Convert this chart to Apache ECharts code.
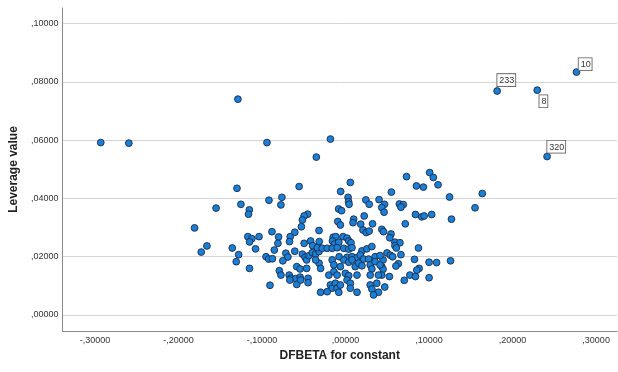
<!DOCTYPE html>
<html><head><meta charset="utf-8">
<script src="https://cdn.jsdelivr.net/npm/echarts@6/dist/echarts.min.js"></script>
<style>html,body{margin:0;padding:0;background:#fff}#c{width:618px;height:372px}</style>
</head><body><div id="c"></div>
<script>
// DFBETA for constant (x) and Leverage value (y) for each case
const dfbeta = [
-0.2931,-0.2595,-0.1289,-0.0941,-0.0181,-0.0350,-0.1300,-0.0556,0.0057,-0.0059,
0.0030,0.0036,0.0042,-0.0917,-0.0762,-0.0774,-0.1253,-0.1550,-0.1152,-0.1162,
-0.0083,-0.0048,
0.0730,0.1007,0.1051,0.0849,0.0932,0.1107,0.0549,0.1245,0.1637,0.1550,
0.0466,0.0434,0.0644,0.0691,0.0663,0.0837,0.0912,0.0941,0.1031,0.1268,
0.0715,0.0434,0.0454,0.0544,0.0529,0.0591,0.0651,0.0591,0.0608,0.0873,
0.0496,0.0537,0.0564,0.0663,0.0449,0.0825,0.1000,0.1090,0.1257,0.0632,
0.0603,0.0434,0.0449,0.0881,0.0853,0.0770,0.0837,0.1000,0.0525,0.0703,
0.0434,0.0469,
0.0243,0.0283,0.0401,-0.0454,-0.0496,-0.0517,-0.0093,-0.0062,0.0097,0.0089,
0.0223,0.0181,0.0323,0.0208,0.0247,0.0283,
-0.0529,-0.0318,-0.1808,-0.1660,-0.1728,-0.1356,-0.1280,-0.1309,-0.1150,-0.1170,
-0.1122,-0.1150,-0.1036,-0.1078,-0.0881,-0.0802,-0.0810,-0.0663,-0.0671,-0.0608,
-0.0496,-0.0853,-0.0715,-0.0691,-0.0608,-0.0952,-0.0920,-0.0876,-0.0751,-0.0517,
-0.0485,-0.0466,-0.0437,-0.0398,-0.0359,-0.0318,-0.0584,-0.0544,-0.0466,-0.0793,
-0.0774,-0.0675,-0.0656,-0.0596,-0.0544,-0.0667,-0.0449,-0.0449,-0.0584,-0.0905,
-0.0299,-0.0318,-0.0299,-0.0359,-0.0418,-0.0537,
0.0461,-0.0315,-0.0148,-0.0116,-0.0030,0.0018,-0.0157,-0.0133,-0.0081,0.0038,
0.0065,-0.0394,-0.0338,-0.0279,-0.0220,-0.0160,-0.0101,-0.0021,0.0038,0.0077,
0.0196,0.0255,0.0315,-0.0077,0.0018,0.0077,0.0137,0.0176,0.0216,0.0276,
0.0354,0.0413,-0.0160,-0.0140,-0.0062,-0.0021,0.0038,0.0077,0.0116,0.0157,
0.0196,0.0295,0.0315,0.0354,0.0413,-0.0200,-0.0140,-0.0101,-0.0002,0.0038,
0.0137,0.0295,0.0394,-0.0181,-0.0160,-0.0121,-0.0101,-0.0062,-0.0081,0.0018,
0.0057,0.0057,0.0295,0.0315,0.0374,0.0394,-0.0220,0.0137,0.0335
];
const leverage = [
0.0592,0.0590,0.0741,0.0592,0.0604,0.0542,0.0435,0.0441,0.0455,0.0424,
0.0404,0.0389,0.0380,0.0394,0.0404,0.0378,0.0380,0.0367,0.0361,0.0346,
0.0364,0.0358,
0.0475,0.0489,0.0472,0.0443,0.0439,0.0447,0.0422,0.0405,0.0417,0.0368,
0.0380,0.0369,0.0381,0.0379,0.0370,0.0345,0.0337,0.0340,0.0345,0.0329,
0.0313,0.0294,0.0286,0.0278,0.0265,0.0250,0.0248,0.0238,0.0230,0.0230,
0.0213,0.0205,0.0200,0.0207,0.0189,0.0191,0.0181,0.0180,0.0186,0.0176,
0.0168,0.0166,0.0157,0.0160,0.0154,0.0137,0.0132,0.0128,0.0132,0.0119,
0.0137,0.0096,
0.0395,0.0380,0.0396,0.0346,0.0340,0.0326,0.0321,0.0309,0.0329,0.0317,
0.0340,0.0312,0.0313,0.0292,0.0283,0.0288,
0.0303,0.0290,0.0299,0.0237,0.0216,0.0230,0.0207,0.0183,0.0160,0.0269,
0.0262,0.0251,0.0269,0.0227,0.0286,0.0268,0.0246,0.0269,0.0252,0.0284,
0.0246,0.0223,0.0212,0.0199,0.0219,0.0200,0.0192,0.0193,0.0186,0.0209,
0.0198,0.0189,0.0204,0.0214,0.0209,0.0218,0.0166,0.0158,0.0160,0.0152,
0.0137,0.0137,0.0126,0.0125,0.0130,0.0120,0.0126,0.0111,0.0105,0.0102,
0.0078,0.0178,0.0160,0.0189,0.0254,0.0120,
0.0353,0.0252,0.0267,0.0269,0.0269,0.0264,0.0254,0.0243,0.0250,0.0254,
0.0248,0.0238,0.0231,0.0229,0.0229,0.0229,0.0231,0.0229,0.0226,0.0231,
0.0220,0.0227,0.0235,0.0200,0.0198,0.0200,0.0197,0.0206,0.0192,0.0192,
0.0200,0.0204,0.0189,0.0172,0.0166,0.0189,0.0181,0.0189,0.0166,0.0178,
0.0169,0.0172,0.0158,0.0183,0.0172,0.0137,0.0149,0.0137,0.0143,0.0135,
0.0137,0.0137,0.0137,0.0103,0.0092,0.0109,0.0092,0.0103,0.0078,0.0120,
0.0109,0.0092,0.0103,0.0089,0.0109,0.0078,0.0080,0.0078,0.0069
];
// labelled cases
const caseIds = ['233','8','10','320'];
const caseDfbeta = [0.1815,0.2295,0.2765,0.2413];
const caseLeverage = [0.0769,0.0772,0.0834,0.0544];
const xTicks = [-0.3,-0.2,-0.1,0,0.1,0.2,0.3];
const yTicks = [0,0.02,0.04,0.06,0.08,0.10];

function fmt(v){
  const s = Math.abs(v).toFixed(5).split('.')[1];
  return (v < -1e-9 ? '-,' : ',') + s;
}
const labelOffsets = {'233':[4,-13],'8':[6,9],'10':[6,-10],'320':[4,-12]};

const main = dfbeta.map((x,i)=>[x, leverage[i]]);
const labelled = caseIds.map((id,i)=>({
  value:[caseDfbeta[i], caseLeverage[i]],
  label:{show:true, formatter:id, position:labelOffsets[id]}
}));

const chart = echarts.init(document.getElementById('c'), null, {renderer:'canvas'});
const pointStyle = {color:'#1a7fd6', borderColor:'#1d2a45', borderWidth:0.9, opacity:1};
chart.setOption({
  animation:false,
  backgroundColor:'#fff',
  grid:{left:58, right:1, top:8, bottom:41, containLabel:false},
  xAxis:{
    type:'value', min:-0.339, max:0.325,
    name:'DFBETA for constant', nameLocation:'middle', nameGap:18,
    nameTextStyle:{fontFamily:'Liberation Sans', fontSize:12, fontWeight:'bold', color:'#222'},
    axisLine:{show:true, onZero:false, lineStyle:{color:'#8a8a8a', width:1}},
    axisTick:{show:false, customValues:xTicks},
    axisLabel:{customValues:xTicks, formatter:fmt, fontFamily:'Liberation Sans', fontSize:9, color:'#333', margin:5},
    splitLine:{show:false}
  },
  yAxis:{
    type:'value', min:-0.0055, max:0.1054,
    name:'Leverage value', nameLocation:'middle', nameGap:33,
    nameTextStyle:{fontFamily:'Liberation Sans', fontSize:12, fontWeight:'bold', color:'#222'},
    axisLine:{show:true, onZero:false, lineStyle:{color:'#8a8a8a', width:1}},
    axisTick:{show:false, customValues:yTicks},
    axisLabel:{customValues:yTicks, formatter:fmt, fontFamily:'Liberation Sans', fontSize:9, color:'#333', margin:4},
    splitLine:{show:true, lineStyle:{color:'#d4d4d4', width:1}}
  },
  series:[
    {type:'scatter', data:main, symbol:'circle', symbolSize:6.8, itemStyle:pointStyle, silent:true},
    {type:'scatter', data:labelled, symbol:'circle', symbolSize:6.8, itemStyle:pointStyle, silent:true,
     label:{show:true, align:'left', verticalAlign:'top', fontFamily:'Liberation Sans', fontSize:9, color:'#333',
            backgroundColor:'#fff', borderColor:'#555', borderWidth:0.8, padding:[2,1,1,2]}}
  ]
});
</script></body></html>
